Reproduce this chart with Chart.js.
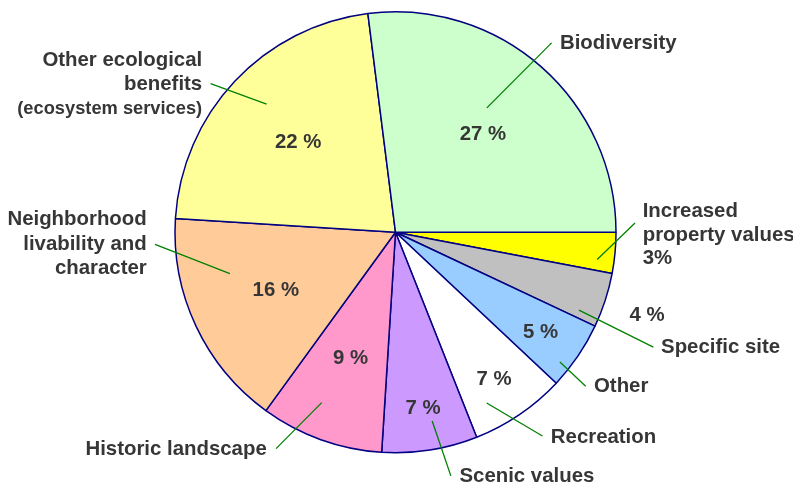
<!DOCTYPE html>
<html>
<head>
<meta charset="utf-8">
<script src="https://cdn.jsdelivr.net/npm/chart.js@4/dist/chart.umd.min.js"></script>
<style>
  html, body { margin: 0; padding: 0; background: #ffffff; }
  #wrap { width: 793px; height: 485px; position: relative; }
</style>
</head>
<body>
<div id="wrap"><canvas id="c" width="793" height="485"></canvas></div>
<script>
// ---- data ----
const categories = [
  'Increased property values',
  'Specific site',
  'Other',
  'Recreation',
  'Scenic values',
  'Historic landscape',
  'Neighborhood livability and character',
  'Other ecological benefits (ecosystem services)',
  'Biodiversity'
];
const shares = [3, 4, 5, 7, 7, 9, 16, 22, 27];
const labelLines = [
  ['Increased', 'property values', '3%'],
  ['Specific site'],
  ['Other'],
  ['Recreation'],
  ['Scenic values'],
  ['Historic landscape'],
  ['Neighborhood', 'livability and', 'character'],
  ['Other ecological', 'benefits', '(ecosystem services)'],
  ['Biodiversity']
];
const percentLabels = ['', '4 %', '5 %', '7 %', '7 %', '9 %', '16 %', '22 %', '27 %'];

// ---- styles ----
const colors = ['#FFFF00', '#C0C0C0', '#99CCFF', '#FFFFFF', '#CC99FF', '#FF99CC', '#FFCC99', '#FFFF99', '#CCFFCC'];
const FONT = '"Liberation Sans", Arial, Helvetica, sans-serif';
const TEXT_COLOR = '#363636';
const BASE = 20.4;
// percent label radius factor (placed at slice mid-angle)
const pctRadius = [null, 1.2, 0.795, 0.795, 0.8, 0.6, 0.6, 0.605, 0.6];
// leader line: [angle offset from mid (deg), radius factor] for start and end
const leaders = [
  [[2.3, 0.923], [-7.6, 1.087]],
  [[5.0, 0.904], [6.0, 1.28]],
  [[4.1, 0.95], [4.8, 1.11]],
  [[6.1, 0.878], [-1.6, 1.139]],
  [[-2.0, 0.872], [-3.8, 1.133]],
  [[3.6, 0.842], [9.1, 1.121]],
  [[11.2, 0.774], [22.3, 1.092]],
  [[1.6, 0.824], [-4.4, 1.076]],
  [[-5.1, 0.70], [-1.9, 1.113]]
];
// text block relative to leader end: dx, first baseline dy, align, per-line gaps, per-line sizes
const textBlocks = [
  {dx: 7.7, dy: -6, align: 'left', gaps: [24.3, 22.3], sizes: [BASE, BASE, BASE]},
  {dx: 7.7, dy: 6, align: 'left', gaps: [], sizes: [BASE]},
  {dx: 8.3, dy: 5.7, align: 'left', gaps: [], sizes: [BASE]},
  {dx: 8.4, dy: 6.6, align: 'left', gaps: [], sizes: [BASE]},
  {dx: 8.6, dy: 6, align: 'left', gaps: [], sizes: [BASE]},
  {dx: -9.3, dy: 6.7, align: 'right', gaps: [], sizes: [BASE]},
  {dx: -8.3, dy: -19, align: 'right', gaps: [25, 24], sizes: [BASE, BASE, BASE]},
  {dx: -8.4, dy: -17.3, align: 'right', gaps: [24, 23.3], sizes: [BASE, BASE, 18.3]},
  {dx: 8.3, dy: 6.6, align: 'left', gaps: [], sizes: [BASE]}
];

const labelPlugin = {
  id: 'sliceLabels',
  afterDatasetsDraw(chart) {
    const ctx = chart.ctx;
    const meta = chart.getDatasetMeta(0);
    ctx.save();
    meta.data.forEach((arc, i) => {
      const p = arc.getProps(['x', 'y', 'startAngle', 'endAngle', 'outerRadius'], true);
      const mid = (p.startAngle + p.endAngle) / 2;
      const R = p.outerRadius;
      const polar = (dDeg, rf) => {
        const a = mid + dDeg * Math.PI / 180;
        return [p.x + Math.cos(a) * R * rf, p.y + Math.sin(a) * R * rf];
      };
      // percent label
      if (pctRadius[i] !== null && percentLabels[i]) {
        const [px, py] = polar(0, pctRadius[i]);
        ctx.font = 'bold ' + BASE + 'px ' + FONT;
        ctx.fillStyle = TEXT_COLOR;
        ctx.textAlign = 'center';
        ctx.textBaseline = 'alphabetic';
        ctx.fillText(percentLabels[i], px, py + 7.3);
      }
      // leader line
      const [s, e] = leaders[i];
      const [x0, y0] = polar(s[0], s[1]);
      const [x1, y1] = polar(e[0], e[1]);
      ctx.strokeStyle = '#008000';
      ctx.lineWidth = 1.3;
      ctx.beginPath();
      ctx.moveTo(x0, y0);
      ctx.lineTo(x1, y1);
      ctx.stroke();
      // category text
      const tb = textBlocks[i];
      let by = y1 + tb.dy;
      ctx.fillStyle = TEXT_COLOR;
      ctx.textAlign = tb.align;
      ctx.textBaseline = 'alphabetic';
      labelLines[i].forEach((line, k) => {
        if (k > 0) by += tb.gaps[k - 1];
        ctx.font = 'bold ' + tb.sizes[k] + 'px ' + FONT;
        ctx.fillText(line, x1 + tb.dx, by);
      });
    });
    ctx.restore();
  }
};

new Chart(document.getElementById('c'), {
  type: 'pie',
  data: {
    labels: categories,
    datasets: [{
      data: shares,
      backgroundColor: colors,
      borderColor: '#000080',
      borderWidth: 1.5,
      borderAlign: 'center'
    }]
  },
  options: {
    responsive: false,
    animation: false,
    rotation: 90,
    layout: { padding: { top: 11, bottom: 31.5, left: 100, right: 102 } },
    plugins: {
      legend: { display: false },
      tooltip: { enabled: false }
    }
  },
  plugins: [labelPlugin]
});
</script>
</body>
</html>
